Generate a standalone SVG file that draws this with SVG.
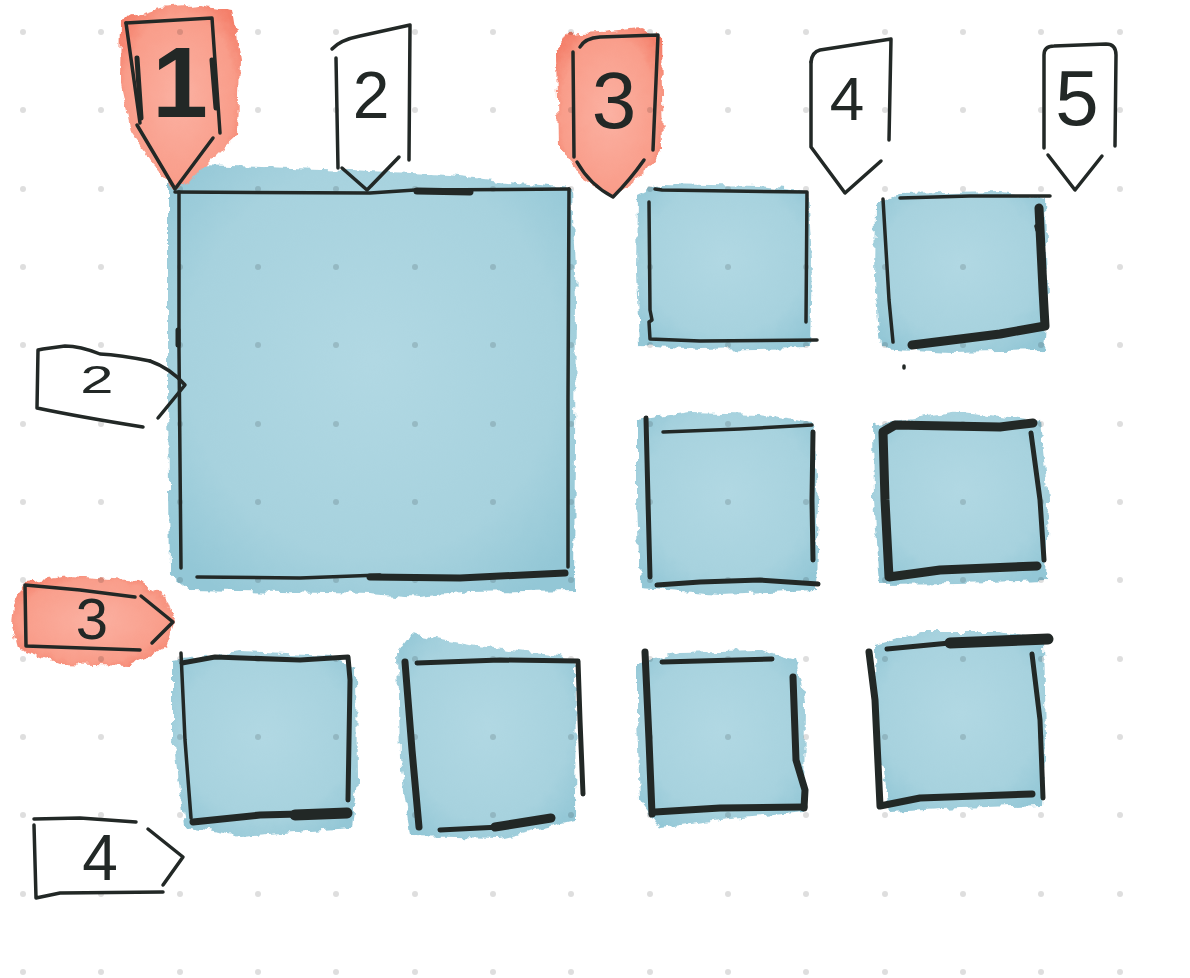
<svg xmlns="http://www.w3.org/2000/svg" width="1190" height="978" viewBox="0 0 1190 978">
<defs>
  <filter id="wash" x="-10%" y="-10%" width="120%" height="120%">
    <feTurbulence type="fractalNoise" baseFrequency="0.09" numOctaves="3" seed="4" result="n"/>
    <feDisplacementMap in="SourceGraphic" in2="n" scale="9" xChannelSelector="R" yChannelSelector="G" result="d"/>
    <feGaussianBlur in="d" stdDeviation="0.6"/>
  </filter>
  <radialGradient id="blue" cx="50%" cy="45%" r="65%">
    <stop offset="0" stop-color="#b1d8e3"/>
    <stop offset="0.7" stop-color="#a7d2de"/>
    <stop offset="1" stop-color="#93c7d6"/>
  </radialGradient>
  <radialGradient id="red" cx="50%" cy="50%" r="60%">
    <stop offset="0" stop-color="#fbb1a2"/>
    <stop offset="0.75" stop-color="#f99d8a"/>
    <stop offset="1" stop-color="#f47f6a"/>
  </radialGradient>
  <style>
    .bf{fill:url(#blue);filter:url(#wash)}
    .rf{fill:url(#red);filter:url(#wash)}
    .ln{fill:none;stroke:#222826;stroke-linecap:round;stroke-linejoin:round}
    .w2{stroke-width:2.5}
    .w3{stroke-width:3.5}
    .w5{stroke-width:5}
    .w7{stroke-width:7}
    .w9{stroke-width:9}
    .w11{stroke-width:11}
    .lbl{font-family:"Liberation Sans","DejaVu Sans",sans-serif;fill:#222826;text-anchor:middle}
    .dot{fill:#000;fill-opacity:0.13}
  </style>
</defs>
<rect width="1190" height="978" fill="#ffffff"/>

<g id="fills">
  <path class="bf" d="M168,172 L200,165 L350,170 L450,175 L517,183 L572,188 L576,300 L574,590 L470,592 L420,598 L370,594 L190,590 L170,575 L168,400 Z"/>
  <path class="bf" d="M638,195 L660,184 L760,186 L808,192 L812,260 L810,348 L700,350 L640,346 L637,270 Z"/>
  <path class="bf" d="M876,205 L900,194 L1000,192 L1046,198 L1048,300 L1044,350 L950,352 L880,348 L875,280 Z"/>
  <path class="bf" d="M637,420 L690,412 L760,414 L812,422 L818,500 L816,590 L720,594 L640,588 L637,500 Z"/>
  <path class="bf" d="M873,425 L920,418 L960,412 L1040,420 L1048,500 L1046,580 L960,583 L880,584 L874,500 Z"/>
  <path class="bf" d="M173,660 L240,652 L330,656 L356,668 L357,780 L352,828 L240,836 L185,826 L173,740 Z"/>
  <path class="bf" d="M398,650 L410,634 L470,645 L560,656 L576,665 L575,820 L500,838 L410,836 L400,760 Z"/>
  <path class="bf" d="M637,665 L680,652 L760,650 L795,660 L805,700 L804,812 L720,820 L660,828 L640,800 L637,720 Z"/>
  <path class="bf" d="M875,645 L920,632 L1000,632 L1044,640 L1046,740 L1042,805 L960,808 L890,812 L876,740 Z"/>
  <path class="rf" d="M121,20 L160,8 L200,5 L232,10 L240,60 L238,135 L222,150 L190,182 L175,190 L150,160 L132,135 L120,80 Z"/>
  <path class="rf" d="M556,55 L566,34 L600,32 L640,28 L661,36 L663,150 L648,170 L612,198 L580,175 L558,145 Z"/>
  <path class="rf" d="M14,605 L25,582 L70,576 L140,581 L165,597 L174,622 L166,648 L130,666 L60,664 L18,648 L12,625 Z"/>
</g>

<g id="grid">
  <g class="dot">
    <circle cx="23" cy="32" r="3"/><circle cx="101" cy="32" r="3"/><circle cx="180" cy="32" r="3"/><circle cx="258" cy="32" r="3"/><circle cx="336" cy="32" r="3"/><circle cx="415" cy="32" r="3"/><circle cx="493" cy="32" r="3"/><circle cx="571" cy="32" r="3"/><circle cx="650" cy="32" r="3"/><circle cx="728" cy="32" r="3"/><circle cx="806" cy="32" r="3"/><circle cx="885" cy="32" r="3"/><circle cx="963" cy="32" r="3"/><circle cx="1041" cy="32" r="3"/><circle cx="1120" cy="32" r="3"/>
    <circle cx="23" cy="110" r="3"/><circle cx="101" cy="110" r="3"/><circle cx="180" cy="110" r="3"/><circle cx="258" cy="110" r="3"/><circle cx="336" cy="110" r="3"/><circle cx="415" cy="110" r="3"/><circle cx="493" cy="110" r="3"/><circle cx="571" cy="110" r="3"/><circle cx="650" cy="110" r="3"/><circle cx="728" cy="110" r="3"/><circle cx="806" cy="110" r="3"/><circle cx="885" cy="110" r="3"/><circle cx="963" cy="110" r="3"/><circle cx="1041" cy="110" r="3"/><circle cx="1120" cy="110" r="3"/>
    <circle cx="23" cy="189" r="3"/><circle cx="101" cy="189" r="3"/><circle cx="180" cy="189" r="3"/><circle cx="258" cy="189" r="3"/><circle cx="336" cy="189" r="3"/><circle cx="415" cy="189" r="3"/><circle cx="493" cy="189" r="3"/><circle cx="571" cy="189" r="3"/><circle cx="650" cy="189" r="3"/><circle cx="728" cy="189" r="3"/><circle cx="806" cy="189" r="3"/><circle cx="885" cy="189" r="3"/><circle cx="963" cy="189" r="3"/><circle cx="1041" cy="189" r="3"/><circle cx="1120" cy="189" r="3"/>
    <circle cx="23" cy="267" r="3"/><circle cx="101" cy="267" r="3"/><circle cx="180" cy="267" r="3"/><circle cx="258" cy="267" r="3"/><circle cx="336" cy="267" r="3"/><circle cx="415" cy="267" r="3"/><circle cx="493" cy="267" r="3"/><circle cx="571" cy="267" r="3"/><circle cx="650" cy="267" r="3"/><circle cx="728" cy="267" r="3"/><circle cx="806" cy="267" r="3"/><circle cx="885" cy="267" r="3"/><circle cx="963" cy="267" r="3"/><circle cx="1041" cy="267" r="3"/><circle cx="1120" cy="267" r="3"/>
    <circle cx="23" cy="345" r="3"/><circle cx="101" cy="345" r="3"/><circle cx="180" cy="345" r="3"/><circle cx="258" cy="345" r="3"/><circle cx="336" cy="345" r="3"/><circle cx="415" cy="345" r="3"/><circle cx="493" cy="345" r="3"/><circle cx="571" cy="345" r="3"/><circle cx="650" cy="345" r="3"/><circle cx="728" cy="345" r="3"/><circle cx="806" cy="345" r="3"/><circle cx="885" cy="345" r="3"/><circle cx="963" cy="345" r="3"/><circle cx="1041" cy="345" r="3"/><circle cx="1120" cy="345" r="3"/>
    <circle cx="23" cy="424" r="3"/><circle cx="101" cy="424" r="3"/><circle cx="180" cy="424" r="3"/><circle cx="258" cy="424" r="3"/><circle cx="336" cy="424" r="3"/><circle cx="415" cy="424" r="3"/><circle cx="493" cy="424" r="3"/><circle cx="571" cy="424" r="3"/><circle cx="650" cy="424" r="3"/><circle cx="728" cy="424" r="3"/><circle cx="806" cy="424" r="3"/><circle cx="885" cy="424" r="3"/><circle cx="963" cy="424" r="3"/><circle cx="1041" cy="424" r="3"/><circle cx="1120" cy="424" r="3"/>
    <circle cx="23" cy="502" r="3"/><circle cx="101" cy="502" r="3"/><circle cx="180" cy="502" r="3"/><circle cx="258" cy="502" r="3"/><circle cx="336" cy="502" r="3"/><circle cx="415" cy="502" r="3"/><circle cx="493" cy="502" r="3"/><circle cx="571" cy="502" r="3"/><circle cx="650" cy="502" r="3"/><circle cx="728" cy="502" r="3"/><circle cx="806" cy="502" r="3"/><circle cx="885" cy="502" r="3"/><circle cx="963" cy="502" r="3"/><circle cx="1041" cy="502" r="3"/><circle cx="1120" cy="502" r="3"/>
    <circle cx="23" cy="580" r="3"/><circle cx="101" cy="580" r="3"/><circle cx="180" cy="580" r="3"/><circle cx="258" cy="580" r="3"/><circle cx="336" cy="580" r="3"/><circle cx="415" cy="580" r="3"/><circle cx="493" cy="580" r="3"/><circle cx="571" cy="580" r="3"/><circle cx="650" cy="580" r="3"/><circle cx="728" cy="580" r="3"/><circle cx="806" cy="580" r="3"/><circle cx="885" cy="580" r="3"/><circle cx="963" cy="580" r="3"/><circle cx="1041" cy="580" r="3"/><circle cx="1120" cy="580" r="3"/>
    <circle cx="23" cy="659" r="3"/><circle cx="101" cy="659" r="3"/><circle cx="180" cy="659" r="3"/><circle cx="258" cy="659" r="3"/><circle cx="336" cy="659" r="3"/><circle cx="415" cy="659" r="3"/><circle cx="493" cy="659" r="3"/><circle cx="571" cy="659" r="3"/><circle cx="650" cy="659" r="3"/><circle cx="728" cy="659" r="3"/><circle cx="806" cy="659" r="3"/><circle cx="885" cy="659" r="3"/><circle cx="963" cy="659" r="3"/><circle cx="1041" cy="659" r="3"/><circle cx="1120" cy="659" r="3"/>
    <circle cx="23" cy="737" r="3"/><circle cx="101" cy="737" r="3"/><circle cx="180" cy="737" r="3"/><circle cx="258" cy="737" r="3"/><circle cx="336" cy="737" r="3"/><circle cx="415" cy="737" r="3"/><circle cx="493" cy="737" r="3"/><circle cx="571" cy="737" r="3"/><circle cx="650" cy="737" r="3"/><circle cx="728" cy="737" r="3"/><circle cx="806" cy="737" r="3"/><circle cx="885" cy="737" r="3"/><circle cx="963" cy="737" r="3"/><circle cx="1041" cy="737" r="3"/><circle cx="1120" cy="737" r="3"/>
    <circle cx="23" cy="815" r="3"/><circle cx="101" cy="815" r="3"/><circle cx="180" cy="815" r="3"/><circle cx="258" cy="815" r="3"/><circle cx="336" cy="815" r="3"/><circle cx="415" cy="815" r="3"/><circle cx="493" cy="815" r="3"/><circle cx="571" cy="815" r="3"/><circle cx="650" cy="815" r="3"/><circle cx="728" cy="815" r="3"/><circle cx="806" cy="815" r="3"/><circle cx="885" cy="815" r="3"/><circle cx="963" cy="815" r="3"/><circle cx="1041" cy="815" r="3"/><circle cx="1120" cy="815" r="3"/>
    <circle cx="23" cy="894" r="3"/><circle cx="101" cy="894" r="3"/><circle cx="180" cy="894" r="3"/><circle cx="258" cy="894" r="3"/><circle cx="336" cy="894" r="3"/><circle cx="415" cy="894" r="3"/><circle cx="493" cy="894" r="3"/><circle cx="571" cy="894" r="3"/><circle cx="650" cy="894" r="3"/><circle cx="728" cy="894" r="3"/><circle cx="806" cy="894" r="3"/><circle cx="885" cy="894" r="3"/><circle cx="963" cy="894" r="3"/><circle cx="1041" cy="894" r="3"/><circle cx="1120" cy="894" r="3"/>
    <circle cx="23" cy="972" r="3"/><circle cx="101" cy="972" r="3"/><circle cx="180" cy="972" r="3"/><circle cx="258" cy="972" r="3"/><circle cx="336" cy="972" r="3"/><circle cx="415" cy="972" r="3"/><circle cx="493" cy="972" r="3"/><circle cx="571" cy="972" r="3"/><circle cx="650" cy="972" r="3"/><circle cx="728" cy="972" r="3"/><circle cx="806" cy="972" r="3"/><circle cx="885" cy="972" r="3"/><circle cx="963" cy="972" r="3"/><circle cx="1041" cy="972" r="3"/><circle cx="1120" cy="972" r="3"/>
  </g>
</g>

<g id="cell-big">
  <path class="ln w3" d="M175,192 L370,193 L415,190 L569,189"/>
  <path class="ln w7" d="M417,191 L470,192"/>
  <path class="ln w3" d="M179,192 L179,350 L181,568"/>
  <path class="ln w5" d="M178,330 L178,345"/>
  <path class="ln w3" d="M569,189 L568,400 L568,567"/>
  <path class="ln w3" d="M197,577 L300,578 L380,575"/>
  <path class="ln w7" d="M370,577 L460,578 L565,573"/>
</g>

<g id="cell-r1c3">
  <path class="ln w3" d="M655,189 L662,190 L807,192 L806,322"/>
  <path class="ln w3" d="M649,202 L650,310 L652,320 L649,322 L650,339 L700,341 L817,340"/>
</g>

<g id="cell-r1c4">
  <path class="ln w3" d="M900,198 L970,196 L1050,196"/>
  <path class="ln w3" d="M883,199 L889,300 L893,342"/>
  <path class="ln w9" d="M1039,208 L1043,290 L1045,326 L1000,334 L912,345"/>
  <path class="ln w3" d="M1036,226 L1037,230"/>
  <path class="ln w3" d="M904,366 L904,368"/>
</g>

<g id="cell-r2c3">
  <path class="ln w3" d="M663,432 L740,429 L812,425"/>
  <path class="ln w5" d="M646,418 L648,500 L650,577"/>
  <path class="ln w5" d="M813,432 L812,500 L813,560"/>
  <path class="ln w5" d="M657,585 L700,582 L760,580 L818,584"/>
</g>

<g id="cell-r2c4">
  <path class="ln w9" d="M1033,423 L1000,427 L895,425 L883,432 L885,500 L889,577 L940,570 L1037,566"/>
  <path class="ln w5" d="M1031,433 L1040,500 L1044,560"/>
</g>

<g id="cell-r3c1">
  <path class="ln w5" d="M182,663 L215,657 L300,660 L348,657 L350,680 L348,800"/>
  <path class="ln w3" d="M181,653 L185,740 L191,818"/>
  <path class="ln w7" d="M193,822 L260,815 L300,814"/>
  <path class="ln w11" d="M295,815 L347,813"/>
</g>

<g id="cell-r3c2">
  <path class="ln w5" d="M417,663 L500,660 L578,661 L580,720 L583,794"/>
  <path class="ln w7" d="M405,662 L412,750 L419,827"/>
  <path class="ln w5" d="M440,830 L500,827"/>
  <path class="ln w9" d="M495,827 L551,818"/>
</g>

<g id="cell-r3c3">
  <path class="ln w5" d="M662,662 L772,659"/>
  <path class="ln w7" d="M645,652 L649,740 L652,814"/>
  <path class="ln w7" d="M793,677 L796,760 L805,790 L804,808"/>
  <path class="ln w7" d="M655,812 L720,808 L804,807"/>
</g>

<g id="cell-r3c4">
  <path class="ln w5" d="M887,649 L960,642"/>
  <path class="ln w11" d="M950,643 L1048,639"/>
  <path class="ln w7" d="M869,652 L875,700 L880,806 L920,798 L1032,794"/>
  <path class="ln w5" d="M1032,654 L1040,720 L1043,798"/>
</g>

<g id="marker-top-1">
  <path class="ln w3" d="M126,23 L212,18 L220,133"/>
  <path class="ln w3" d="M126,23 L140,123"/>
  <path class="ln w5" d="M137,58 L141,118"/>
  <path class="ln w5" d="M212,60 L216,108"/>
  <path class="ln w3" d="M137,125 L175,189 L213,138"/>
  <text class="lbl" x="180" y="117" font-size="100" font-weight="bold">1</text>
</g>

<g id="marker-top-2">
  <path class="ln w3" d="M332,49 Q340,40 360,36 L410,25 L409,160"/>
  <path class="ln w3" d="M336,58 L338,168"/>
  <path class="ln w3" d="M342,168 L367,190 L399,157 L371,186"/>
  <text class="lbl" x="371" y="118" font-size="66">2</text>
</g>

<g id="marker-top-3">
  <path class="ln w3" d="M580,47 Q585,38 600,37 L658,35 L653,150"/>
  <path class="ln w3" d="M573,52 L574,157"/>
  <path class="ln w3" d="M577,162 Q590,185 613,197 Q630,180 644,160"/>
  <text class="lbl" x="614" y="128" font-size="80">3</text>
</g>

<g id="marker-top-4">
  <path class="ln w3" d="M811,62 Q812,52 820,50 L891,39 L889,140"/>
  <path class="ln w3" d="M811,62 L811,147 L845,193 L881,161"/>
  <text class="lbl" x="847" y="120" font-size="62">4</text>
</g>

<g id="marker-top-5">
  <path class="ln w3" d="M1044,148 L1044,55 Q1044,46 1054,46 L1106,44 Q1116,44 1116,55 L1115,146"/>
  <path class="ln w3" d="M1048,155 L1075,190 L1102,156"/>
  <text class="lbl" x="1077" y="125" font-size="78">5</text>
</g>

<g id="marker-left-2">
  <path class="ln w3" d="M150,361 Q120,355 100,354 Q80,346 65,346 L43,349 L38,350 L37,408 Q80,417 143,427"/>
  <path class="ln w3" d="M150,361 Q170,368 185,385 L158,418"/>
  <text class="lbl" x="97" y="393" font-size="46" transform="translate(97,393) scale(1.3,0.85) translate(-97,-393)">2</text>
</g>

<g id="marker-left-3">
  <path class="ln w3" d="M135,597 L80,590 L25,585 L26,646 L140,650"/>
  <path class="ln w3" d="M141,596 L173,622 L152,643"/>
  <text class="lbl" x="92" y="639" font-size="58">3</text>
</g>

<g id="marker-left-4">
  <path class="ln w3" d="M136,822 L80,818 L34,819"/>
  <path class="ln w3" d="M34,825 L36,898 L60,893 L163,892"/>
  <path class="ln w3" d="M148,829 L183,857 L163,885"/>
  <text class="lbl" x="100" y="880" font-size="64">4</text>
</g>
</svg>
